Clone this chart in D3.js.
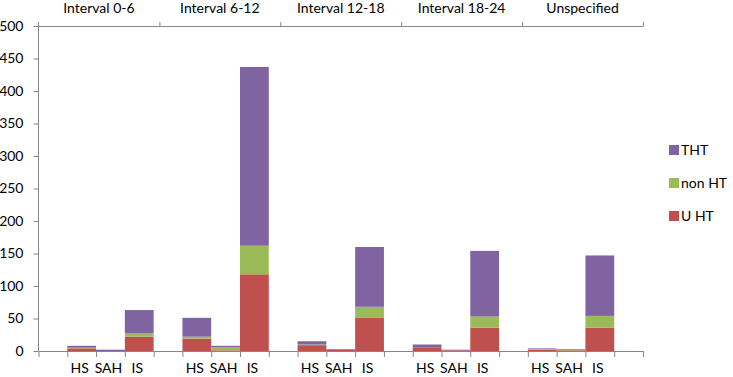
<!DOCTYPE html>
<html>
<head>
<meta charset="utf-8">
<script src="https://cdn.jsdelivr.net/npm/d3@7"></script>
<style>
  body { margin: 0; background: #fff; }
  text { font-family: Lato, "Open Sans", sans-serif; fill: #000; }
  .axis path, .axis line { stroke: #868686; }
</style>
</head>
<body>
<div id="chart"></div>
<script>
// groups along the top, bars inside each group
const groups = ["Interval 0-6", "Interval 6-12", "Interval 12-18", "Interval 18-24", "Unspecified"];
const types = ["HS", "SAH", "IS"];
const seriesNames = ["UHT", "nonHT", "THT"];
const legendLabels = {UHT: "U HT", nonHT: "non HT", THT: "THT"};
const colors = {UHT: "#c0504d", nonHT: "#9bbb59", THT: "#8064a2"};

// values per group, order HS, SAH, IS
const UHT   = [[4, 0, 22], [19, 1, 118], [9, 2, 51], [5, 1, 36], [2, 1, 36]];
const nonHT = [[1, 0, 5],  [3, 5, 44],   [1, 0, 17], [0, 0, 17], [1, 1, 18]];
const THT   = [[3, 2, 36], [29, 2, 275], [5, 1, 92], [5, 1, 101], [1, 1, 93]];

const yTicks = [0, 50, 100, 150, 200, 250, 300, 350, 400, 450, 500];

const W = 733, H = 377;
const plotLeft = 38.5, plotRight = 643, plotTop = 26, plotBottom = 351;

const svg = d3.select("#chart").append("svg")
    .attr("width", W).attr("height", H);

// slots: blank, HS, SAH, IS per group, plus a trailing blank
const nSlots = groups.length * (types.length + 1) + 1;
const slot = d3.scaleLinear().domain([0, nSlots]).range([plotLeft, plotRight]);
const grp = d3.scaleLinear().domain([0, groups.length]).range([plotLeft, plotRight]);
const y = d3.scaleLinear().domain([0, 500]).range([plotBottom, plotTop]);

// build the rows
var rows = [];
groups.forEach(function (g, gi) {
    types.forEach(function (t, ti) {
        rows.push({group: g, type: t, slotIndex: gi * 4 + 1 + ti,
            UHT: UHT[gi][ti], nonHT: nonHT[gi][ti], THT: THT[gi][ti]});
    });
});
const stacked = d3.stack().keys(seriesNames)(rows);

svg.append("g").selectAll("g")
    .data(stacked)
    .enter().append("g")
    .attr("fill", d => colors[d.key])
    .selectAll("rect")
    .data(d => d)
    .enter().append("rect")
    .attr("x", d => slot(d.data.slotIndex))
    .attr("width", slot(1) - slot(0))
    .attr("y", d => y(d[1]))
    .attr("height", d => y(d[0]) - y(d[1]));

// y axis
const yAxis = svg.append("g")
    .attr("class", "axis")
    .attr("transform", `translate(${plotLeft},0)`)
    .call(d3.axisLeft(y).tickValues(yTicks).tickSize(5).tickSizeOuter(0).tickPadding(10));
yAxis.select(".domain").attr("d", `M0,${plotTop - 4}V${plotBottom}`);
yAxis.selectAll("text").style("font-size", "14px");

// bottom axis with slot ticks
svg.append("g")
    .attr("class", "axis")
    .attr("transform", `translate(0,${plotBottom})`)
    .call(d3.axisBottom(slot).tickValues(d3.range(nSlots + 1))
        .tickSize(6).tickSizeOuter(0).tickFormat(""));

svg.append("g").selectAll("text")
    .data(rows)
    .enter().append("text")
    .attr("x", d => slot(d.slotIndex + 0.5) - 2)
    .attr("y", 373)
    .attr("text-anchor", "middle")
    .style("font-size", "14px")
    .text(d => d.type);

// top axis with group ticks
svg.append("g")
    .attr("class", "axis")
    .attr("transform", `translate(0,${plotTop})`)
    .call(d3.axisTop(grp).tickValues(d3.range(1, groups.length + 1))
        .tickSize(4).tickSizeOuter(0).tickFormat(""));

svg.append("g").selectAll("text")
    .data(groups)
    .enter().append("text")
    .attr("x", (d, i) => grp(i + 0.5))
    .attr("y", 13)
    .attr("text-anchor", "middle")
    .style("font-size", "14px")
    .text(d => d);

// legend
const legendKeys = ["THT", "nonHT", "UHT"];
const legend = svg.append("g").selectAll("g")
    .data(legendKeys)
    .enter().append("g")
    .attr("transform", (d, i) => `translate(669,${150 + i * 33})`);
legend.append("rect")
    .attr("x", 0).attr("y", -5)
    .attr("width", 10).attr("height", 10)
    .attr("fill", d => colors[d]);
legend.append("text")
    .attr("x", 12).attr("y", 5)
    .style("font-size", "14px")
    .text(d => legendLabels[d]);
</script>
</body>
</html>
